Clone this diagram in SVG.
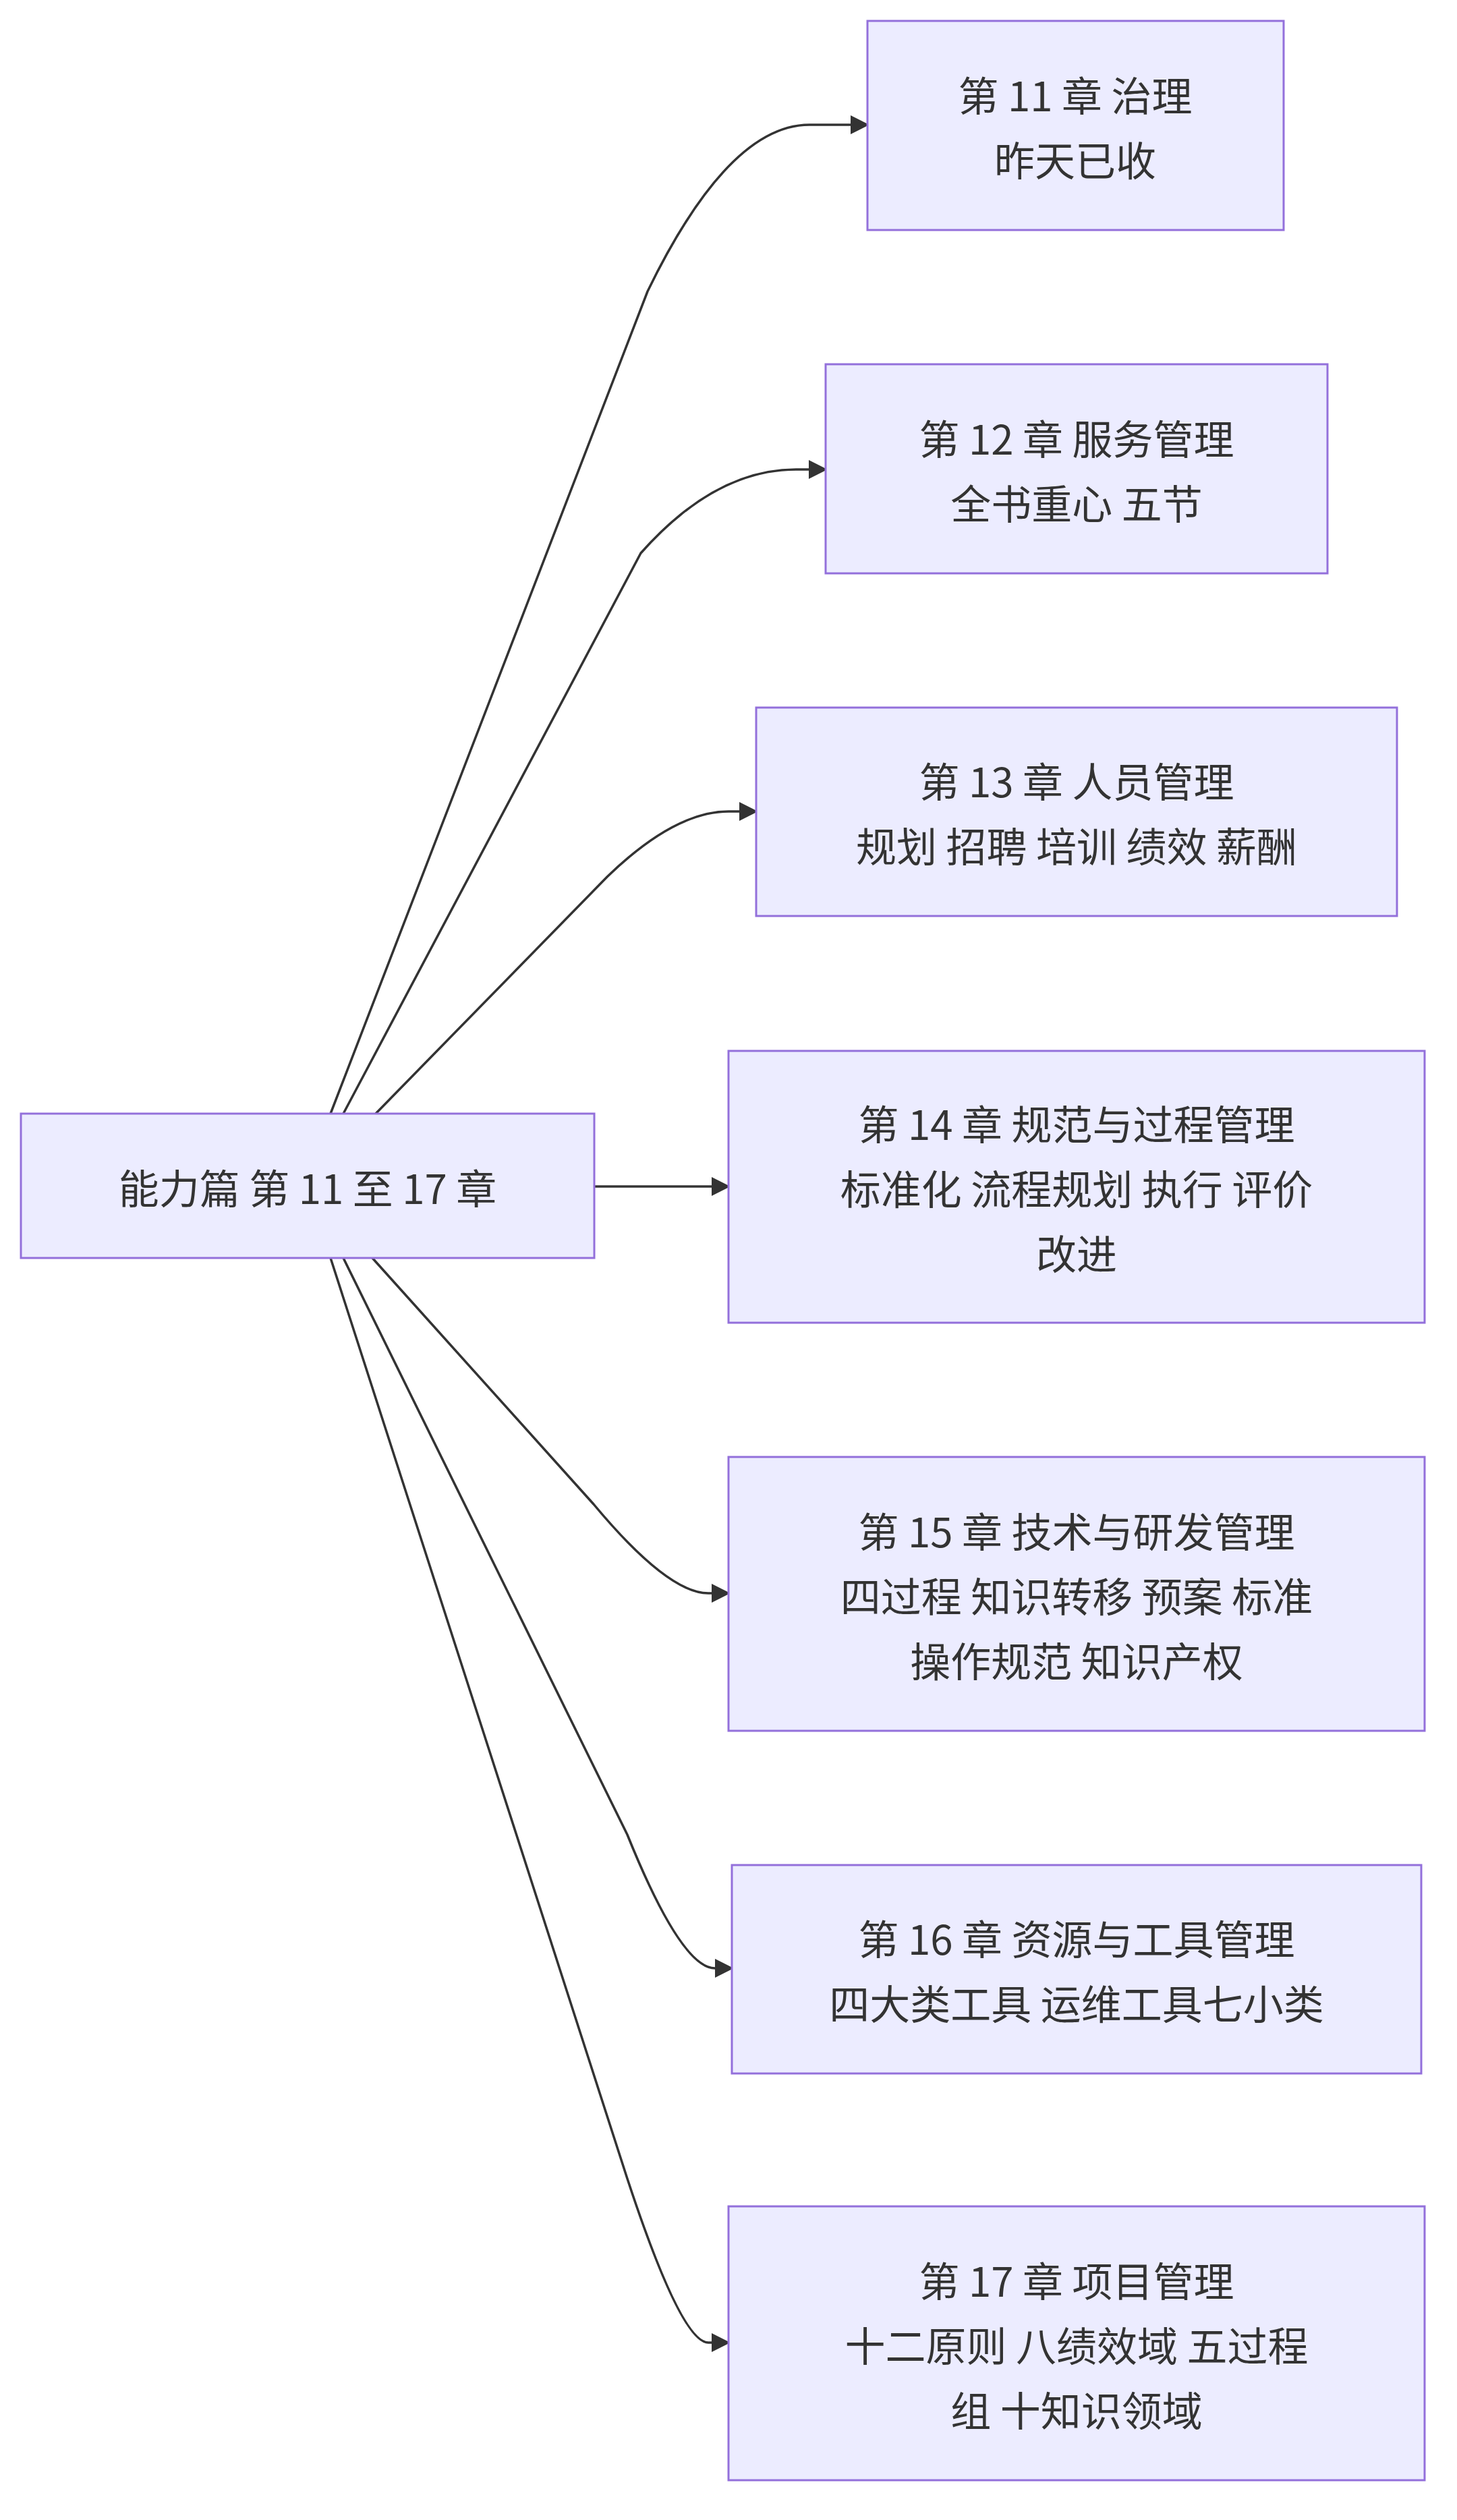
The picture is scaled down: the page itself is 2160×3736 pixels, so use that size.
<svg xmlns="http://www.w3.org/2000/svg" width="2160" height="3736" viewBox="0 0 2160 3736">
<style>
.n{fill:#ECECFF;stroke:#9370DB;stroke-width:3}
.t{font-family:"Noto Sans CJK SC","Liberation Sans",sans-serif;font-size:60px;fill:#333;text-anchor:middle;dominant-baseline:central}
.e{fill:none;stroke:#333;stroke-width:3.5}
</style>
<defs><marker id="a" viewBox="0 0 10 10" refX="9" refY="5" markerWidth="8" markerHeight="8" markerUnits="userSpaceOnUse" orient="auto"><path d="M0,0L10,5L0,10z" fill="#333"/></marker>
<marker id="b" viewBox="0 0 10 10" refX="9" refY="5" markerWidth="28" markerHeight="28" markerUnits="userSpaceOnUse" orient="auto"><path d="M0,0L10,5L0,10z" fill="#333"/></marker></defs>
<rect width="2160" height="3736" fill="#fff"/>
<g id="edges">
<path class="e" marker-end="url(#b)" d="M490,1651 L960,432 Q1080,185 1200,185 L1286,185"/>
<path class="e" marker-end="url(#b)" d="M509,1651 L950,820 Q1060,696 1180,696 L1224,696"/>
<path class="e" marker-end="url(#b)" d="M557,1651 L900,1300 Q1000,1203 1080,1203 L1121,1203"/>
<path class="e" marker-end="url(#b)" d="M881,1759 L1080,1759"/>
<path class="e" marker-end="url(#b)" d="M552,1865 L880,2230 Q990,2362 1050,2362 L1080,2362"/>
<path class="e" marker-end="url(#b)" d="M509,1865 L930,2720 Q1010,2918 1060,2918 L1085,2918"/>
<path class="e" marker-end="url(#b)" d="M490,1865 L930,3230 Q1010,3473 1050,3473 L1080,3473"/>
</g>
<g id="root"><rect class="n" x="31" y="1651" width="850" height="214"/><text class="t" x="456" y="1758">能力篇 第 11 至 17 章</text></g>
<g id="c11"><rect class="n" x="1286" y="31" width="617" height="310"/><text class="t" x="1594" y="138">第 11 章 治理</text><text class="t" x="1594" y="234">昨天已收</text></g>
<g id="c12"><rect class="n" x="1224" y="540" width="744" height="310"/><text class="t" x="1596" y="647">第 12 章 服务管理</text><text class="t" x="1596" y="743">全书重心 五节</text></g>
<g id="c13"><rect class="n" x="1121" y="1049" width="950" height="309"/><text class="t" x="1596" y="1155">第 13 章 人员管理</text><text class="t" x="1596" y="1251">规划 招聘 培训 绩效 薪酬</text></g>
<g id="c14"><rect class="n" x="1080" y="1558" width="1032" height="403"/><text class="t" x="1596" y="1663">第 14 章 规范与过程管理</text><text class="t" x="1596" y="1759">标准化 流程规划 执行 评价</text><text class="t" x="1596" y="1855">改进</text></g>
<g id="c15"><rect class="n" x="1080" y="2160" width="1032" height="406"/><text class="t" x="1596" y="2267">第 15 章 技术与研发管理</text><text class="t" x="1596" y="2363">四过程 知识转移 预案 标准</text><text class="t" x="1596" y="2459">操作规范 知识产权</text></g>
<g id="c16"><rect class="n" x="1085" y="2765" width="1022" height="309"/><text class="t" x="1596" y="2871">第 16 章 资源与工具管理</text><text class="t" x="1596" y="2967">四大类工具 运维工具七小类</text></g>
<g id="c17"><rect class="n" x="1080" y="3271" width="1032" height="406"/><text class="t" x="1596" y="3378">第 17 章 项目管理</text><text class="t" x="1596" y="3474">十二原则 八绩效域 五过程</text><text class="t" x="1596" y="3570">组 十知识领域</text></g>
</svg>
